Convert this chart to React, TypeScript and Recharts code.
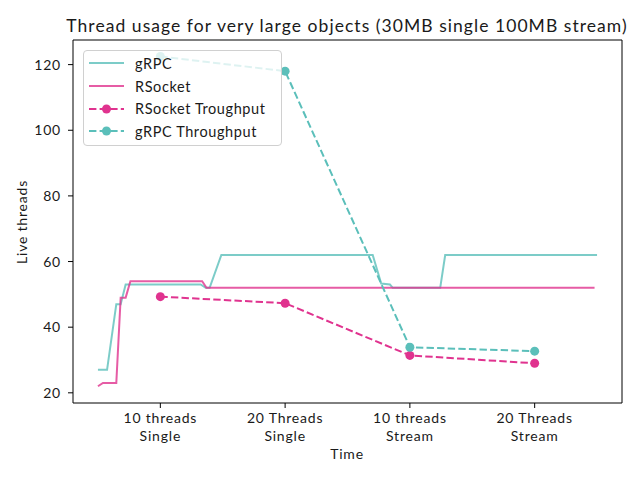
import { LineChart, Line, XAxis, YAxis, Legend } from "recharts"

// time axis is in "scenario" units: 1..4 = the four runs
const grpcTime = [0.5, 0.573, 0.647, 0.682, 0.722, 1.323, 1.363, 1.395, 1.489, 2.702, 2.77, 2.84, 2.863, 3.243, 3.283, 4.5]
const grpcThreads = [27, 27, 47, 47, 53, 53, 52, 52, 62, 62, 53.3, 53, 52, 52, 62, 62]

const rsocketTime = [0.5, 0.54, 0.647, 0.682, 0.722, 0.76, 1.335, 1.37, 4.48]
const rsocketThreads = [22, 23, 23, 49, 49, 54, 54, 52, 52]

const scenarioPos = [1, 2, 3, 4]
const scenarioLabels = [
    ["10 threads", "Single"],
    ["20 Threads", "Single"],
    ["10 threads", "Stream"],
    ["20 Threads", "Stream"],
]
const rsocketThroughput = [49.3, 47.3, 31.4, 29]
const grpcThroughput = [122.5, 118, 33.9, 32.7]

const yTicks = [20, 40, 60, 80, 100, 120]

const TEAL = "#5bbfba"
const PINK = "#e0338f"
const FONT = "Lato, 'Noto Sans', sans-serif"
const TEXT = "#1a1a1a"

const grpcData = grpcTime.map((t, i) => ({ t, v: grpcThreads[i] }))
const rsocketData = rsocketTime.map((t, i) => ({ t, v: rsocketThreads[i] }))
const rsocketTpData = scenarioPos.map((t, i) => ({ t, v: rsocketThroughput[i] }))
const grpcTpData = scenarioPos.map((t, i) => ({ t, v: grpcThroughput[i] }))

const legendItems = [
    { name: "gRPC", color: TEAL, opacity: 0.8, dashed: false },
    { name: "RSocket", color: PINK, opacity: 0.8, dashed: false },
    { name: "RSocket Troughput", color: PINK, opacity: 1, dashed: true },
    { name: "gRPC Throughput", color: TEAL, opacity: 1, dashed: true },
]

function XTick(props: any) {
    const { x, y, payload } = props
    const lines = scenarioLabels[scenarioPos.indexOf(payload.value)] || ["", ""]
    return (
        <g transform={`translate(${x},${y})`}>
            <text textAnchor="middle" fontFamily={FONT} fontSize={14} letterSpacing={0.8} fill={TEXT}>
                <tspan x={0} y={13}>{lines[0]}</tspan>
                <tspan x={0} y={31}>{lines[1]}</tspan>
            </text>
        </g>
    )
}

function LegendBox() {
    return (
        <div
            style={{
                width: 199,
                height: 96,
                boxSizing: "border-box",
                background: "rgba(255,255,255,0.8)",
                border: "1px solid #d0d0d0",
                borderRadius: 4,
                paddingTop: 1,
                fontFamily: FONT,
                fontSize: 14.5,
                letterSpacing: 0.6,
                color: TEXT,
            }}
        >
            {legendItems.map((it) => (
                <div key={it.name} style={{ height: 22.7, display: "flex", alignItems: "center" }}>
                    <svg width={47} height={14} style={{ marginLeft: 4, flex: "none" }}>
                        <line
                            x1={1}
                            y1={7}
                            x2={36}
                            y2={7}
                            stroke={it.color}
                            strokeOpacity={it.opacity}
                            strokeWidth={2}
                            strokeDasharray={it.dashed ? "7.4 3.2" : undefined}
                        />
                        {it.dashed && <circle cx={18.5} cy={7} r={4.5} fill={it.color} />}
                    </svg>
                    <span>{it.name}</span>
                </div>
            ))}
        </div>
    )
}

export default function App() {
    return (
        <div style={{ position: "absolute", left: 0, top: 0, width: 640, height: 480, background: "#fff" }}>
            <LineChart width={640} height={480} margin={{ top: 40, right: 18, bottom: 40, left: 23 }}>
                <text x={347} y={32} textAnchor="middle" fontFamily={FONT} fontSize={17.5} letterSpacing={1.05} fill={TEXT}>
                    Thread usage for very large objects (30MB single 100MB stream)
                </text>
                <text x={347} y={459} textAnchor="middle" fontFamily={FONT} fontSize={14} letterSpacing={0.8} fill={TEXT}>
                    Time
                </text>
                <text
                    x={0}
                    y={0}
                    transform="translate(27,222) rotate(-90)"
                    textAnchor="middle"
                    fontFamily={FONT}
                    fontSize={14}
                    letterSpacing={0.8}
                    fill={TEXT}
                >
                    Live threads
                </text>
                <XAxis
                    type="number"
                    dataKey="t"
                    domain={[0.3, 4.7]}
                    allowDataOverflow
                    ticks={scenarioPos}
                    interval={0}
                    height={37}
                    tickSize={5}
                    tickMargin={2}
                    tick={<XTick />}
                    axisLine={{ stroke: "#000", strokeWidth: 1 }}
                    tickLine={{ stroke: "#000" }}
                />
                <YAxis
                    type="number"
                    dataKey="v"
                    domain={[16.9, 127.5]}
                    allowDataOverflow
                    ticks={yTicks}
                    interval={0}
                    width={50}
                    tickSize={5}
                    tickMargin={7}
                    tick={{ fontFamily: FONT, fontSize: 14, fill: TEXT, letterSpacing: 0.8 }}
                    axisLine={{ stroke: "#000", strokeWidth: 1 }}
                    tickLine={{ stroke: "#000" }}
                />
                {/* top and right spines */}
                <line x1={73} y1={40} x2={622} y2={40} stroke="#000" strokeWidth={1} />
                <line x1={622} y1={40} x2={622} y2={403} stroke="#000" strokeWidth={1} />
                <Line
                    data={grpcData}
                    dataKey="v"
                    type="linear"
                    stroke={TEAL}
                    strokeOpacity={0.8}
                    strokeWidth={2}
                    dot={false}
                    activeDot={false}
                    isAnimationActive={false}
                />
                <Line
                    data={rsocketData}
                    dataKey="v"
                    type="linear"
                    stroke={PINK}
                    strokeOpacity={0.8}
                    strokeWidth={2}
                    dot={false}
                    activeDot={false}
                    isAnimationActive={false}
                />
                <Line
                    data={rsocketTpData}
                    dataKey="v"
                    type="linear"
                    stroke={PINK}
                    strokeWidth={2}
                    strokeDasharray="7.4 3.2"
                    dot={{ r: 4.5, fill: PINK, stroke: PINK, strokeWidth: 0 }}
                    activeDot={false}
                    isAnimationActive={false}
                />
                <Line
                    data={grpcTpData}
                    dataKey="v"
                    type="linear"
                    stroke={TEAL}
                    strokeWidth={2}
                    strokeDasharray="7.4 3.2"
                    dot={{ r: 4.5, fill: TEAL, stroke: TEAL, strokeWidth: 0 }}
                    activeDot={false}
                    isAnimationActive={false}
                />
                <Legend
                    layout="vertical"
                    align="center"
                    verticalAlign="middle"
                    content={<LegendBox />}
                    wrapperStyle={{ top: 50, left: 83, width: 199, height: 96 }}
                />
            </LineChart>
        </div>
    )
}
